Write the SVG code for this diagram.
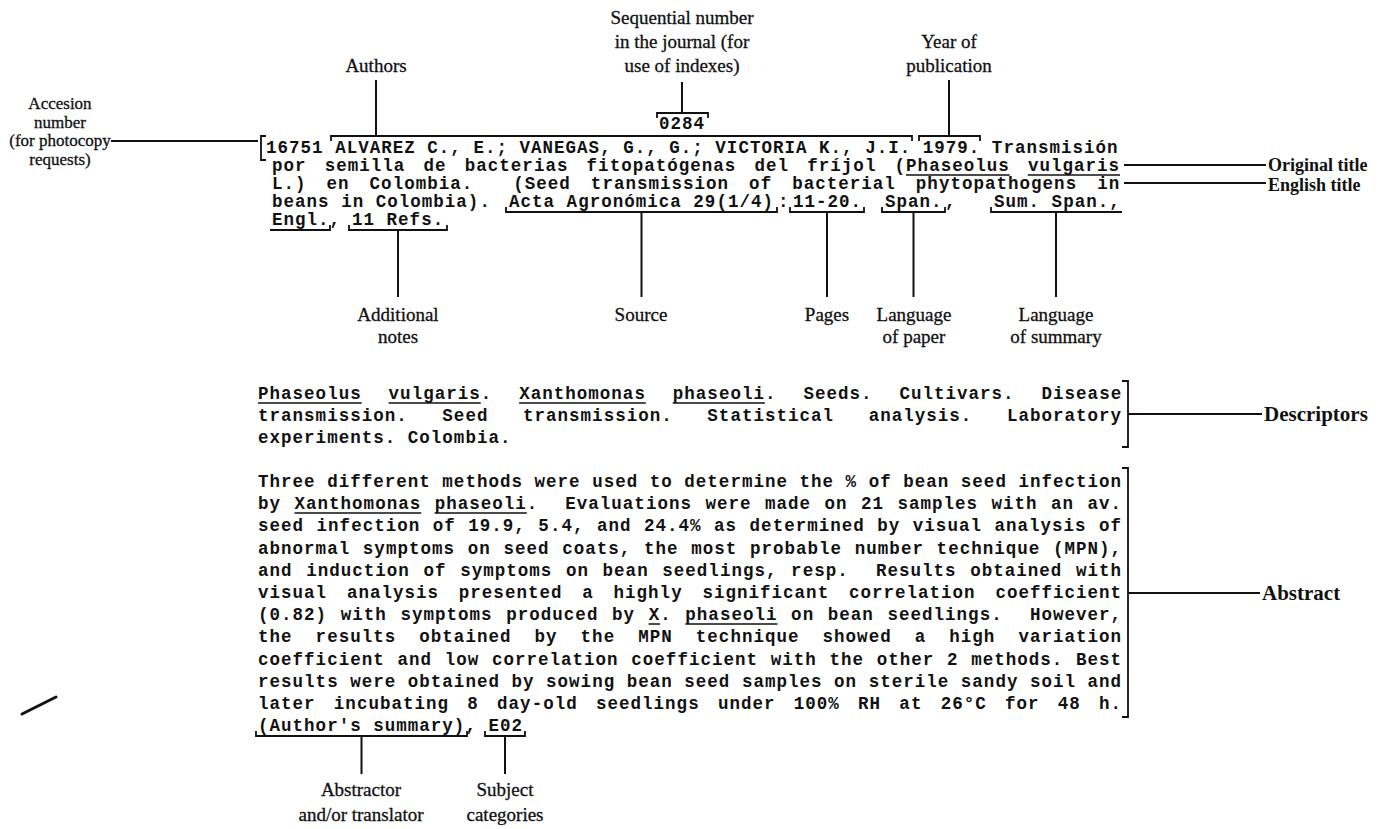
<svg xmlns="http://www.w3.org/2000/svg" width="1391" height="829" viewBox="0 0 1391 829">
<style>
.m{font-family:"Liberation Mono","DejaVu Sans Mono",monospace;font-weight:bold;font-size:17.5px;letter-spacing:1.02px;fill:#111;white-space:pre}
.l{font-family:"Liberation Serif","Times New Roman",serif;font-size:19px;fill:#111;stroke:#111;stroke-width:0.3;text-anchor:middle}
.a{font-size:17px}
.r{font-family:"Liberation Serif","Times New Roman",serif;font-weight:bold;font-size:21px;fill:#111}
.t{font-size:18px}
.c{stroke:#111;stroke-width:2;fill:none}
.b{stroke:#111;stroke-width:1.8;fill:none}
.u{stroke:#111;stroke-width:1.6;fill:none}
</style>
<rect width="1391" height="829" fill="#fff"/>

<g id="label-accession">
<text class="l a" x="60" y="109">Accesion</text>
<text class="l a" x="60" y="127.5">number</text>
<text class="l a" x="60" y="146">(for photocopy</text>
<text class="l a" x="60" y="164.5">requests)</text>
</g>
<g id="label-authors"><text class="l" x="376" y="72">Authors</text></g>
<g id="label-sequential">
<text class="l" x="682" y="24">Sequential number</text>
<text class="l" x="682" y="48">in the journal (for</text>
<text class="l" x="682" y="72">use of indexes)</text>
</g>
<g id="label-year">
<text class="l" x="949" y="48">Year of</text>
<text class="l" x="949" y="72">publication</text>
</g>
<g id="label-original"><text class="r t" x="1268" y="171">Original title</text></g>
<g id="label-english"><text class="r t" x="1268" y="191">English title</text></g>
<g id="label-additional">
<text class="l" x="398" y="321">Additional</text>
<text class="l" x="398" y="343">notes</text>
</g>
<g id="label-source"><text class="l" x="641" y="321">Source</text></g>
<g id="label-pages"><text class="l" x="827" y="321">Pages</text></g>
<g id="label-lang-paper">
<text class="l" x="914" y="321">Language</text>
<text class="l" x="914" y="343">of paper</text>
</g>
<g id="label-lang-summary">
<text class="l" x="1056" y="321">Language</text>
<text class="l" x="1056" y="343">of summary</text>
</g>
<g id="label-descriptors"><text class="r" x="1264" y="421">Descriptors</text></g>
<g id="label-abstract"><text class="r" x="1262" y="600">Abstract</text></g>
<g id="label-abstractor">
<text class="l" x="361" y="796">Abstractor</text>
<text class="l" x="361" y="821">and/or translator</text>
</g>
<g id="label-subject">
<text class="l" x="505" y="796">Subject</text>
<text class="l" x="505" y="821">categories</text>
</g>

<g id="record">
<text class="m" x="659" y="129">0284</text>
<text class="m" x="266" y="153">16751 ALVAREZ C., E.; VANEGAS, G., G.; VICTORIA K., J.I. 1979. Transmisión</text>
<text class="m" x="272" y="171" style="word-spacing:6.64px">por semilla de bacterias fitopatógenas del fríjol (Phaseolus vulgaris</text>
<text class="m" x="272" y="189" style="word-spacing:8.47px">L.) en Colombia.  (Seed transmission of bacterial phytopathogens in</text>
<text class="m" x="272" y="207">beans in Colombia).</text>
<text class="m" x="509" y="207">Acta Agronómica 29(1/4)</text>
<text class="m" x="778" y="207">:</text>
<text class="m" x="793" y="207">11-20.</text>
<text class="m" x="885" y="207">Span.</text>
<text class="m" x="945" y="207">,</text>
<text class="m" x="994" y="207">Sum. Span.,</text>
<text class="m" x="272" y="225">Engl.,</text>
<text class="m" x="352" y="225">11 Refs.</text>
<path class="b" d="M266,136 H261 V160 H266"/>
<path class="b" d="M331,141 V136 H912 V141"/>
<path class="b" d="M657,118 V113 H708 V118"/>
<path class="b" d="M919,141 V136 H980 V141"/>
<path class="u" d="M906,175 H1009.7 M1027.8,175 H1120"/>
<path class="b" d="M506,207 V212 H777 V207"/>
<path class="b" d="M790,207 V212 H864 V207"/>
<path class="b" d="M882,207 V212 H945 V207"/>
<path class="b" d="M991,207 V212 H1122"/>
<path class="b" d="M270,230 H330 V225"/>
<path class="b" d="M349,225 V230 H447 V225"/>
</g>

<g id="descriptors">
<text class="m" x="258" y="399" style="word-spacing:15.37px">Phaseolus vulgaris. Xanthomonas phaseoli. Seeds. Cultivars. Disease</text>
<text class="m" x="258" y="421" style="word-spacing:23.04px">transmission. Seed transmission. Statistical analysis. Laboratory</text>
<text class="m" x="258" y="443">experiments. Colombia.</text>
<path class="u" d="M258,403 H361.7 M388.6,403 H480.7 M519.1,403 H645.8 M672.7,403 H764.9"/>
<path class="b" d="M1122,381 H1128 V447 H1122"/>
</g>

<g id="abstract">
<text class="m" x="258" y="487">Three different methods were used to determine the % of bean seed infection</text>
<text class="m" x="258" y="509.2" style="word-spacing:1.92px">by Xanthomonas phaseoli.  Evaluations were made on 21 samples with an av.</text>
<text class="m" x="258" y="531.4" style="word-spacing:0.96px">seed infection of 19.9, 5.4, and 24.4% as determined by visual analysis of</text>
<text class="m" x="258" y="553.6" style="word-spacing:1.15px">abnormal symptoms on seed coats, the most probable number technique (MPN),</text>
<text class="m" x="258" y="575.8" style="word-spacing:2.09px">and induction of symptoms on bean seedlings, resp.  Results obtained with</text>
<text class="m" x="258" y="598" style="word-spacing:8.23px">visual analysis presented a highly significant correlation coefficient</text>
<text class="m" x="258" y="620.2" style="word-spacing:2.09px">(0.82) with symptoms produced by X. phaseoli on bean seedlings.  However,</text>
<text class="m" x="258" y="642.4" style="word-spacing:11.52px">the results obtained by the MPN technique showed a high variation</text>
<text class="m" x="258" y="664.6" style="word-spacing:1.15px">coefficient and low correlation coefficient with the other 2 methods. Best</text>
<text class="m" x="258" y="686.8">results were obtained by sowing bean seed samples on sterile sandy soil and</text>
<text class="m" x="258" y="709" style="word-spacing:6.72px">later incubating 8 day-old seedlings under 100% RH at 26°C for 48 h.</text>
<text class="m" x="258" y="731.2">(Author's summary), E02</text>
<path class="u" d="M294.5,513 H421.2 M434.6,513 H526.8 M648.6,624 H660.1 M685.3,624 H777.4"/>
<path class="b" d="M1122,468 H1128 V717 H1122"/>
<path class="b" d="M256,731 V736 H467 V731"/>
<path class="b" d="M485,731 V736 H525 V731"/>
</g>

<g id="connectors">
<path class="c" d="M111,141 H258"/>
<path class="c" d="M376,80 V136"/>
<path class="c" d="M682,82 V113"/>
<path class="c" d="M949,80 V136"/>
<path class="c" d="M1124,165 H1266"/>
<path class="c" d="M1124,183 H1266"/>
<path class="c" d="M398,230 V297"/>
<path class="c" d="M641.5,212 V297"/>
<path class="c" d="M827,212 V297"/>
<path class="c" d="M913.5,212 V297"/>
<path class="c" d="M1056,212 V297"/>
<path class="c" d="M1128,414 H1262"/>
<path class="c" d="M1128,593 H1260"/>
<path class="c" d="M361.5,736 V774"/>
<path class="c" d="M505,736 V774"/>
</g>

<path d="M22,714 Q40,705 56,697" stroke="#111" stroke-width="3" fill="none" stroke-linecap="round"/>
</svg>
